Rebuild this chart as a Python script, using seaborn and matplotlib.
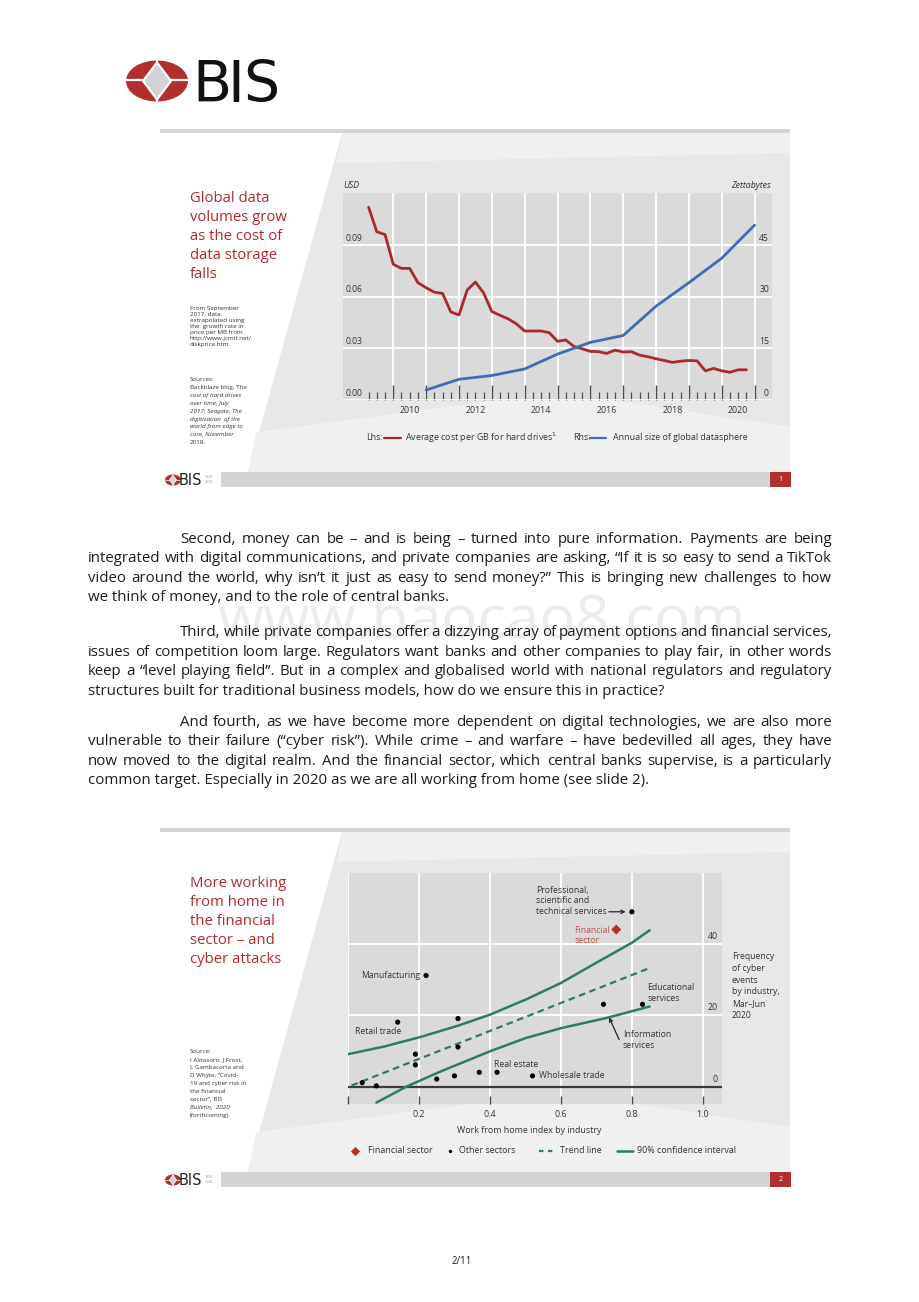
import numpy as np
import pandas as pd
import matplotlib
matplotlib.use("Agg")
import matplotlib.pyplot as plt
from matplotlib.patches import Polygon, Ellipse, Rectangle
from matplotlib.ticker import FixedLocator
import seaborn as sns

# ---------------- data: slide 1 ----------------
# average cost per GB for hard drives (USD), quarterly from 2009Q2
cost_quarters = pd.period_range("2009Q2", "2020Q4", freq="Q")
cost_usd = [0.1117, 0.0975, 0.0959,
            0.0787, 0.0763, 0.0763, 0.0680,
            0.0651, 0.0625, 0.0618, 0.0511,
            0.0493, 0.0637, 0.0684, 0.0621,
            0.0513, 0.0491, 0.0470, 0.0441,
            0.0400, 0.0400, 0.0400, 0.0390,
            0.0340, 0.0348, 0.0311, 0.0297,
            0.0282, 0.0280, 0.0270, 0.0289,
            0.0278, 0.0280, 0.0260, 0.0251,
            0.0239, 0.0229, 0.0218, 0.0225,
            0.0229, 0.0227, 0.0169, 0.0183,
            0.0169, 0.0161, 0.0175, 0.0175]
# annual size of global datasphere (zettabytes), shown at year end
datasphere_years = [2010, 2011, 2012, 2013, 2014, 2015, 2016, 2017, 2018, 2019, 2020]
datasphere_zb = [2.9, 6.0, 7.1, 9.0, 13.3, 16.7, 18.7, 27.2, 34.0, 41.1, 50.7]
year_labels = [2010, 2012, 2014, 2016, 2018, 2020]
usd_ticks = [0.0, 0.03, 0.06, 0.09]
zb_ticks = [0, 15, 30, 45]

# ---------------- data: slide 2 ----------------
other_names = ["Professional", "Manufacturing", "Educational", "Information", "", "Retail trade",
               "", "", "", "", "", "", "Real estate", "Wholesale trade", "", ""]
other_wfh = [0.80, 0.22, 0.83, 0.72, 0.31, 0.14, 0.31, 0.19, 0.19, 0.25, 0.30, 0.37, 0.42, 0.52, 0.04, 0.08]
other_cyber = [49.1, 31.2, 23.1, 23.1, 19.1, 18.1, 11.1, 9.1, 6.1, 2.1, 3.0, 4.0, 4.0, 3.0, 1.1, 0.2]
fin_wfh = [0.756]
fin_cyber = [44.1]
trend_wfh = [0.01, 0.85]
trend_cyber = [0.3, 33.3]
ci_up_wfh = [0.0, 0.1, 0.2, 0.31, 0.4, 0.5, 0.6, 0.7, 0.8, 0.85]
ci_up = [9.1, 11.2, 13.8, 17.1, 20.2, 24.4, 29.1, 34.8, 40.4, 43.9]
ci_lo_wfh = [0.08, 0.165, 0.26, 0.4, 0.5, 0.6, 0.73, 0.85]
ci_lo = [-4.5, 0.0, 4.2, 9.9, 13.6, 16.4, 19.3, 22.5]
wfh_ticks = [0.0, 0.2, 0.4, 0.6, 0.8, 1.0]
cyber_ticks = [0, 20, 40]

# ---------------- page text ----------------
para1 = ["Second, money can be – and is being – turned into pure information. Payments are being",
         "integrated with digital communications, and private companies are asking, “If it is so easy to send a TikTok",
         "video around the world, why isn’t it just as easy to send money?” This is bringing new challenges to how",
         "we think of money, and to the role of central banks."]
para2 = ["Third, while private companies offer a dizzying array of payment options and financial services,",
         "issues of competition loom large. Regulators want banks and other companies to play fair, in other words",
         "keep a “level playing field”. But in a complex and globalised world with national regulators and regulatory",
         "structures built for traditional business models, how do we ensure this in practice?"]
para3 = ["And fourth, as we have become more dependent on digital technologies, we are also more",
         "vulnerable to their failure (“cyber risk”). While crime – and warfare – have bedevilled all ages, they have",
         "now moved to the digital realm. And the financial sector, which central banks supervise, is a particularly",
         "common target. Especially in 2020 as we are all working from home (see slide 2)."]

# ---------------- style ----------------
W, H = 920, 1302
RED_TITLE = "#b3282d"
RED_LINE = "#a82a2c"
BLUE = "#3e6db3"
GREEN = "#2f7d5e"
PLOT_BG = "#dadada"
SLIDE_BG = "#e8e8e8"
SLIDE_LIGHT = "#f0f0f0"
TXT = "#1c1c1c"
CHART_TXT = "#333333"
LOGO_RED = "#b1302f"
BODY_FS = 10.8
LEG_FS = 6.4

sns.set_theme(style="white")
plt.rcParams['font.family'] = ['Open Sans', 'DejaVu Sans']

fig = plt.figure(figsize=(W / 100, H / 100), dpi=100)
pg = fig.add_axes([0, 0, 1, 1], zorder=0)
pg.set_xlim(0, W)
pg.set_ylim(H, 0)
pg.axis('off')
rend = fig.canvas.get_renderer()


def ax_rect(l, t, r, b):
    return [l / W, 1 - b / H, (r - l) / W, (b - t) / H]


def emblem(cx, cy, w, h, lw):
    pg.add_patch(Ellipse((cx, cy), w, h, color=LOGO_RED, lw=0, zorder=2))
    pg.plot([cx - w / 2, cx + w / 2], [cy - h * 0.03, cy - h * 0.03], color='white', lw=lw, zorder=3)
    pg.plot([cx, cx], [cy - h / 2, cy + h / 2], color='white', lw=lw, zorder=3)
    dx, dy = w * 0.225, h * 0.45
    pg.add_patch(Polygon([(cx, cy - dy), (cx + dx, cy), (cx, cy + dy), (cx - dx, cy)],
                         closed=True, fc='#d2d2d2', ec='white', lw=lw, zorder=4))


def slide(top, foot, num):
    pg.add_patch(Rectangle((160, top - 2), 630, 4, color='#d5d5d5', lw=0))
    pg.add_patch(Polygon([(342, top + 2), (790, top + 2), (790, foot), (248, foot)],
                         closed=True, color=SLIDE_BG, lw=0))
    pg.add_patch(Polygon([(342, top + 2), (790, top + 2), (790, top + 22), (337, top + 32)],
                         closed=True, color=SLIDE_LIGHT, lw=0))
    pg.add_patch(Polygon([(256, foot - 40), (560, foot - 80), (790, foot - 45), (790, foot), (248, foot)],
                         closed=True, color=SLIDE_LIGHT, lw=0))
    pg.add_patch(Rectangle((221, foot), 549, 15, color='#d4d4d4', lw=0))
    pg.add_patch(Rectangle((770, foot), 21, 15, color=LOGO_RED, lw=0))
    pg.text(780.5, foot + 7.5, str(num), color='white', fontsize=5, ha='center', va='center')
    emblem(173, foot + 8, 16, 11, 0.5)
    pg.text(190.5, foot + 13, "BIS", fontsize=10.5, ha='center', va='baseline', color='#222222',
            family=['Liberation Sans Narrow', 'DejaVu Sans Condensed', 'DejaVu Sans'])
    pg.text(205, foot + 7.5, "1930\n2020", fontsize=2.6, ha='left', va='center', color='#b08a8a',
            linespacing=1.1)


def justify(lines, x_first, x_left, x_right, y0, step, fs):
    y = y0
    for i, line in enumerate(lines):
        x0 = x_first if i == 0 else x_left
        if i == len(lines) - 1:
            pg.text(x0, y, line, fontsize=fs, color=TXT, ha='left', va='baseline', zorder=3)
        else:
            words = line.split(' ')
            objs = [pg.text(0, y, wd, fontsize=fs, color=TXT, ha='left', va='baseline', zorder=3)
                    for wd in words]
            widths = [o.get_window_extent(renderer=rend).width for o in objs]
            gap = (x_right - x0 - sum(widths)) / (len(words) - 1)
            x = x0
            for o, wdt in zip(objs, widths):
                o.set_x(x)
                x += wdt + gap
        y += step


# ---------------- page header ----------------
emblem(157, 81, 62, 41, 1.6)
for ch, cx in zip("BIS", [212, 236, 261]):
    pg.text(cx, 101.5, ch, fontsize=41, ha='center', va='baseline', color='#111111',
            family=['Liberation Sans Narrow', 'DejaVu Sans Condensed', 'DejaVu Sans'])

# ---------------- slide 1 ----------------
slide(131, 472, 1)
pg.text(190, 191, "Global data\nvolumes grow\nas the cost of\ndata storage\nfalls", fontsize=10.7,
        color=RED_TITLE, ha='left', va='top', linespacing=1.36)
pg.text(190, 306, "From September\n2017, data\nextrapolated using\nthe  growth rate in\nprice per MB from\n"
        "http://www.jcmit.net/\ndiskprice.htm.", fontsize=4.5, color='#333333', ha='left', va='top',
        linespacing=1.25)
pg.text(190, 377, "Sources:", fontsize=4.5, color='#333333', ha='left', va='top')
src_lines = [("Backblaze blog, The", 'normal'), ("cost of hard drives", 'italic'), ("over time, July", 'italic'),
             ("2017; Seagate, The", 'italic'), ("digitization  of the", 'italic'), ("world from edge to", 'italic'),
             ("core, November", 'italic'), ("2018.", 'normal')]
for i, (s, st) in enumerate(src_lines):
    pg.text(190, 385.3 + i * 7.8, s, fontsize=4.5, color='#333333', ha='left', va='top', style=st)

ax1 = fig.add_axes(ax_rect(343, 193, 772, 400), zorder=2)
ax1.set_facecolor(PLOT_BG)
cost_t = [q.year + (q.quarter - 1) / 4 for q in cost_quarters]
sns.lineplot(x=cost_t, y=cost_usd, ax=ax1, color=RED_LINE, lw=2.0, zorder=4)
ax1.set_xlim(2008.47, 2021.53)
ax1.set_ylim(0, 0.12)
ax1.xaxis.set_major_locator(FixedLocator(list(range(2010, 2022))))
ax1.xaxis.set_minor_locator(FixedLocator([t for t in cost_t if t != int(t)]))
ax1.set_yticks(usd_ticks)
ax1.grid(True, which='major', color='white', lw=1.3)
ax1.tick_params(axis='x', which='major', direction='in', length=11, width=1.0, color='#4a4a4a',
                labelbottom=False, bottom=True)
ax1.tick_params(axis='x', which='minor', direction='in', length=5.5, width=0.9, color='#4a4a4a', bottom=True)
ax1.tick_params(axis='y', length=0, labelleft=False)
ax1.set_xlabel('')
ax1.set_ylabel('')
for sp in ax1.spines.values():
    sp.set_visible(False)

ax1r = ax1.twinx()
ds_t = [pd.Period(str(y), freq='Y').end_time.year + 1 for y in datasphere_years]
sns.lineplot(x=ds_t, y=datasphere_zb, ax=ax1r, color=BLUE, lw=2.0, zorder=4)
ax1r.set_ylim(0, 60)
ax1r.set_xlim(2008.47, 2021.53)
ax1r.tick_params(axis='y', length=0, labelright=False)
ax1r.set_ylabel('')
ax1r.grid(False)
for sp in ax1r.spines.values():
    sp.set_visible(False)

for v in usd_ticks:
    ax1.annotate(f"{v:.2f}", xy=(0, v), xycoords=('axes fraction', 'data'), xytext=(3, 2),
                 textcoords='offset pixels', ha='left', va='bottom', fontsize=6.2, color=CHART_TXT)
for v in zb_ticks:
    ax1r.annotate(f"{v}", xy=(1, v), xycoords=('axes fraction', 'data'), xytext=(-3, 2),
                  textcoords='offset pixels', ha='right', va='bottom', fontsize=6.2, color=CHART_TXT)
for yr in year_labels:
    ax1.annotate(str(yr), xy=(yr + 0.5, 0), xycoords=('data', 'axes fraction'), xytext=(0, -6),
                 textcoords='offset pixels', ha='center', va='top', fontsize=6.4, color=CHART_TXT)

pg.text(343, 185, "USD", fontsize=6.3, style='italic', color=CHART_TXT, ha='left', va='center')
pg.text(771, 185, "Zettabytes", fontsize=6.3, style='italic', color=CHART_TXT, ha='right', va='center')
# legend row
pg.text(366, 437.5, "Lhs:", fontsize=LEG_FS, color=CHART_TXT, ha='left', va='center')
pg.plot([384, 401], [437.5, 437.5], color=RED_LINE, lw=1.6)
pg.text(405, 437.5, "Average cost per GB for hard drives$^{1}$", fontsize=LEG_FS, color=CHART_TXT,
        ha='left', va='center')
pg.text(573, 437.5, "Rhs:", fontsize=LEG_FS, color=CHART_TXT, ha='left', va='center')
pg.plot([590, 606], [437.5, 437.5], color=BLUE, lw=1.6)
pg.text(613, 437.5, "Annual size of global datasphere", fontsize=LEG_FS, color=CHART_TXT, ha='left',
        va='center')

# ---------------- body text ----------------
pg.text(482, 622, "www.baocao8.com", fontsize=43, color='#ececec', ha='center', va='center', zorder=1)
justify(para1, 180, 88, 832, 543, 19.3, BODY_FS)
justify(para2, 180, 88, 832, 636, 19.6, BODY_FS)
justify(para3, 180, 88, 832, 725.5, 19.6, BODY_FS)

# ---------------- slide 2 ----------------
slide(830, 1172, 2)
pg.text(190, 876, "More working\nfrom home in\nthe financial\nsector – and\ncyber attacks", fontsize=10.7,
        color=RED_TITLE, ha='left', va='top', linespacing=1.36)
src2 = [("Source:", 'normal'), ("I Aldasoro, J Frost,", 'normal'), ("L Gambacorta and", 'normal'),
        ("D Whyte, “Covid-", 'normal'), ("19 and cyber risk in", 'normal'), ("the financial", 'normal'),
        ("sector”, BIS", 'normal'), ("Bulletin,  2020", 'italic'), ("(forthcoming).", 'normal')]
for i, (s, st) in enumerate(src2):
    pg.text(190, 1049 + i * 8.0, s, fontsize=4.5, color='#333333', ha='left', va='top', style=st)

ax2 = fig.add_axes(ax_rect(348, 873, 722, 1104), zorder=2)
ax2.set_facecolor(PLOT_BG)
ax2.set_xlim(0, 1.054)
ax2.set_ylim(-4.9, 60)
ax2.set_xticks(wfh_ticks)
ax2.set_yticks(cyber_ticks[1:])
ax2.grid(True, color='white', lw=1.3)
ax2.axhline(0, color='#3c3c3c', lw=1.6, zorder=2)
sns.lineplot(x=ci_up_wfh, y=ci_up, ax=ax2, color=GREEN, lw=1.8, sort=False, zorder=3)
sns.lineplot(x=ci_lo_wfh, y=ci_lo, ax=ax2, color=GREEN, lw=1.8, sort=False, zorder=3)
sns.lineplot(x=trend_wfh, y=trend_cyber, ax=ax2, color=GREEN, lw=1.6, sort=False, zorder=3,
             linestyle=(0, (3, 2)))
sns.scatterplot(x=other_wfh, y=other_cyber, ax=ax2, color='black', s=14, edgecolor='none', zorder=5)
sns.scatterplot(x=fin_wfh, y=fin_cyber, ax=ax2, color='#b5302d', marker='D', s=26, edgecolor='none', zorder=5)
ax2.set_xlim(0, 1.054)
ax2.set_ylim(-4.9, 60)
ax2.tick_params(axis='x', direction='in', length=6, width=1.0, color='#4a4a4a', labelbottom=False, bottom=True)
ax2.tick_params(axis='y', length=0, labelleft=False)
ax2.set_xlabel('')
ax2.set_ylabel('')
for sp in ax2.spines.values():
    sp.set_visible(False)

for v in cyber_ticks:
    ax2.annotate(f"{v}", xy=(1, v), xycoords=('axes fraction', 'data'), xytext=(-4, 3),
                 textcoords='offset pixels', ha='right', va='bottom', fontsize=6.3, color=CHART_TXT)
for v in wfh_ticks[1:]:
    ax2.annotate(f"{v:.1f}", xy=(v, 0), xycoords=('data', 'axes fraction'), xytext=(0, -6),
                 textcoords='offset pixels', ha='center', va='top', fontsize=6.4, color=CHART_TXT)

ann = dict(fontsize=6.2, color=CHART_TXT, textcoords='offset pixels')
pts = dict(zip(other_names, zip(other_wfh, other_cyber)))
ax2.annotate("Manufacturing", xy=pts["Manufacturing"], xytext=(-6, 0), ha='right', va='center', **ann)
ax2.annotate("Wholesale trade", xy=pts["Wholesale trade"], xytext=(6, 0), ha='left', va='center', **ann)
ax2.annotate("Real estate", xy=pts["Real estate"], xytext=(-3, 8), ha='left', va='center', **ann)
ax2.annotate("Retail trade", xy=pts["Retail trade"], xytext=(3.5, -9.5), ha='right', va='center', **ann)
ax2.annotate("Educational\nservices", xy=pts["Educational"], xytext=(5, 11), ha='left', va='center',
             linespacing=1.25, **ann)
ax2.annotate("Professional,\nscientific and\ntechnical services", xy=pts["Professional"], xytext=(-96, 11),
             ha='left', va='center', linespacing=1.25, **ann)
ax2.annotate("", xy=pts["Professional"], xytext=(-23, 0), textcoords='offset pixels',
             arrowprops=dict(arrowstyle='->', color='#222222', lw=0.9, shrinkA=0, shrinkB=4.5,
                             mutation_scale=6))
ax2.annotate("Financial\nsector", xy=(fin_wfh[0], fin_cyber[0]), xytext=(-42, -6), ha='left', va='center',
             linespacing=1.1, fontsize=6.2, color='#c0504d', textcoords='offset pixels')
ax2.annotate("Information\nservices", xy=(0.774, 13.0), ha='left', va='center', linespacing=1.25,
             fontsize=6.2, color=CHART_TXT)
ax2.annotate("", xy=(0.736, 19.4), xytext=(0.764, 13.2),
             arrowprops=dict(arrowstyle='->', color='#222222', lw=0.9, shrinkA=0, shrinkB=0,
                             mutation_scale=6))

pg.text(732, 952, "Frequency\nof cyber\nevents\nby industry,\nMar–Jun\n2020", fontsize=6.2, color=CHART_TXT,
        ha='left', va='top', linespacing=1.4)
pg.text(529, 1130.7, "Work from home index by industry", fontsize=6.4, color=CHART_TXT, ha='center',
        va='center')
# legend row
ly = 1150.5
pg.scatter([355], [ly], marker='D', s=22, color='#b5302d', lw=0)
pg.text(368, ly, "Financial sector", fontsize=LEG_FS, color=CHART_TXT, ha='left', va='center')
pg.scatter([450], [ly], marker='o', s=6, color='black', lw=0)
pg.text(459, ly, "Other sectors", fontsize=LEG_FS, color=CHART_TXT, ha='left', va='center')
pg.plot([539, 556], [ly, ly], color=GREEN, lw=1.6, linestyle=(0, (2, 2)))
pg.text(560, ly, "Trend line", fontsize=LEG_FS, color=CHART_TXT, ha='left', va='center')
pg.plot([617, 633], [ly, ly], color=GREEN, lw=1.8)
pg.text(637, ly, "90% confidence interval", fontsize=LEG_FS, color=CHART_TXT, ha='left', va='center')

pg.text(462, 1262, "2/11", fontsize=7, color=TXT, ha='center', va='center')

fig.savefig("out.png", dpi=100)
